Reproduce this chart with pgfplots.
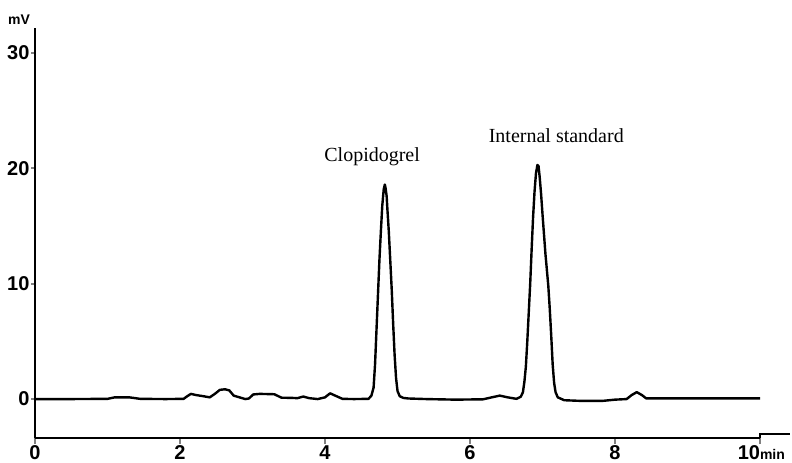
\documentclass[border=0pt]{standalone}
\usepackage{fontspec}
\setmainfont{Liberation Serif}
\setsansfont{Liberation Sans}
\usepackage{pgfplots}
\pgfplotsset{compat=1.18}

\begin{document}
\begin{tikzpicture}
\begin{axis}[
    scale only axis,
    width=362.5pt, height=205.3pt,
    xmin=0, xmax=10, ymin=-3.4, ymax=32.2,
    axis lines=left,
    axis line style={-, line width=1pt},
    clip=false,
    tick align=outside,
    xtick={0,2,4,6,8,10},
    xticklabels={0,2,4,6,8,{\makebox[0pt][r]{10}\makebox[0pt][l]{\fontsize{7}{8}\selectfont min}}},
    ytick={0,10,20,30},
    yticklabels={0,10,20,30},
    xtick style={line width=1pt, /pgfplots/major tick length=3pt},
    ytick style={line width=1pt, /pgfplots/major tick length=2pt},
    ticklabel style={font=\sffamily\bfseries\fontsize{10}{12}\selectfont},
    xticklabel style={yshift=4pt},
    yticklabel style={xshift=5pt},
]
\addplot[black, line width=1.2pt, line join=round, mark=none] coordinates {
(0.00,0.00) (0.50,0.00) (1.00,0.02) (1.10,0.15) (1.30,0.15) (1.45,0.02)
(1.80,0.00) (2.05,0.02) (2.10,0.25) (2.15,0.45) (2.22,0.35) (2.32,0.25)
(2.41,0.15) (2.48,0.45) (2.55,0.80) (2.62,0.85) (2.68,0.75) (2.74,0.30)
(2.82,0.15) (2.90,0.00) (2.95,0.05) (3.01,0.40) (3.10,0.45) (3.30,0.42)
(3.40,0.12) (3.55,0.10) (3.62,0.08) (3.70,0.22) (3.78,0.08) (3.90,0.00)
(4.00,0.15) (4.07,0.50) (4.14,0.30) (4.24,0.02) (4.40,0.00) (4.60,0.02)
(4.64,0.30) (4.67,1.0) (4.69,3.0) (4.71,6.0) (4.73,9.0) (4.75,12.0)
(4.77,14.5) (4.79,16.8) (4.81,18.2) (4.825,18.6) (4.835,18.3) (4.85,17.6)
(4.86,16.5) (4.88,14.5) (4.90,12.0) (4.92,9.5) (4.94,6.5) (4.96,3.8)
(4.98,1.8) (5.00,0.7) (5.03,0.25) (5.08,0.10) (5.15,0.05) (5.40,0.00)
(5.80,-0.05) (6.18,-0.02) (6.30,0.15) (6.41,0.30) (6.52,0.15) (6.64,0.02)
(6.70,0.2) (6.73,0.6) (6.75,1.5) (6.77,2.8) (6.79,5.0) (6.81,7.5)
(6.83,10.0) (6.85,13.0) (6.87,15.8) (6.89,18.0) (6.91,19.6) (6.93,20.3)
(6.945,20.2) (6.96,19.3) (6.98,17.8) (7.00,16.0) (7.02,14.3) (7.04,12.6)
(7.06,11.2) (7.08,9.8) (7.10,7.8) (7.12,5.5) (7.14,3.0) (7.16,1.4)
(7.18,0.6) (7.21,0.15) (7.30,-0.10) (7.50,-0.15) (7.84,-0.15) (8.00,-0.05)
(8.16,0.00) (8.23,0.35) (8.30,0.60) (8.37,0.35) (8.43,0.06) (9.00,0.06)
(10.00,0.06)
};
% peak labels
\node[font=\fontsize{10}{12}\selectfont] at (axis cs:4.65,21.0) {Clopidogrel};
\node[font=\fontsize{10}{12}\selectfont] at (axis cs:7.19,22.8) {Internal standard};
% unit label on y axis
\node[font=\sffamily\bfseries\fontsize{7}{8}\selectfont] at (axis cs:-0.22,32.9) {mV};
% little stub after the 10 min tick
\draw[line width=1pt] (axis cs:10,-3.4) -- (axis cs:10,-3.05) -- (axis cs:10.41,-3.05);
% bounding box matching the reference frame
\coordinate (bbsw) at (axis cs:-0.483,-5.46);
\coordinate (bbne) at (axis cs:10.441,34.6);
\end{axis}
\pgfresetboundingbox
\path[use as bounding box] (bbsw) rectangle (bbne);
\end{tikzpicture}
\end{document}
